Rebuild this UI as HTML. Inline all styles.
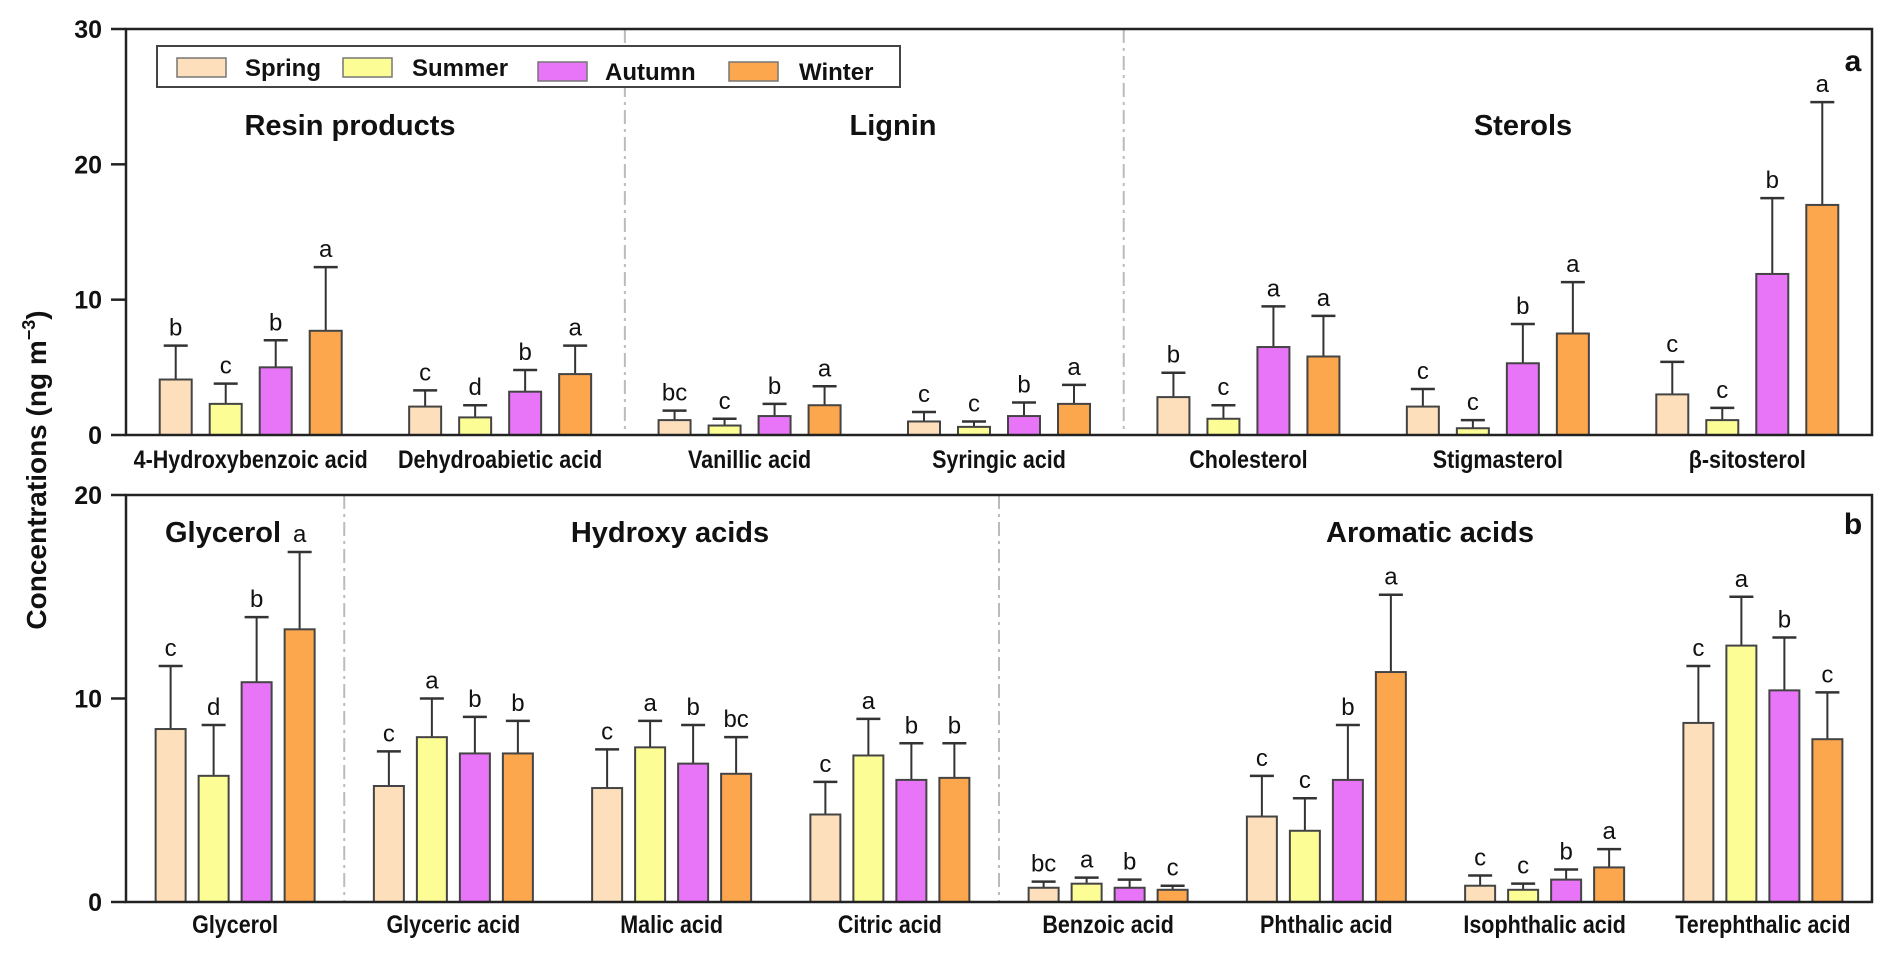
<!DOCTYPE html>
<html><head><meta charset="utf-8"><style>
html,body{margin:0;padding:0;background:#fff}
svg{display:block;font-family:"Liberation Sans",Arial,sans-serif}
</style></head><body>
<svg id="chart" width="1892" height="955" viewBox="0 0 1892 955">
<g id="root"></g>
</svg>
<script>
// ---- data ----
const seasons = ["Spring","Summer","Autumn","Winter"];
const colors = ["#FDDFBC","#FDFD96","#E875F8","#FCA74E"];
const catsA = ["4-Hydroxybenzoic acid","Dehydroabietic acid","Vanillic acid","Syringic acid","Cholesterol","Stigmasterol","β-sitosterol"];
const valsA = [[4.1,2.3,5.0,7.7],[2.1,1.3,3.2,4.5],[1.1,0.7,1.4,2.2],[1.0,0.6,1.4,2.3],[2.8,1.2,6.5,5.8],[2.1,0.5,5.3,7.5],[3.0,1.1,11.9,17.0]];
const errA = [[6.6,3.8,7.0,12.4],[3.3,2.2,4.8,6.6],[1.8,1.2,2.3,3.6],[1.7,1.0,2.4,3.7],[4.6,2.2,9.5,8.8],[3.4,1.1,8.2,11.3],[5.4,2.0,17.5,24.6]];
const letA = [["b","c","b","a"],["c","d","b","a"],["bc","c","b","a"],["c","c","b","a"],["b","c","a","a"],["c","c","b","a"],["c","c","b","a"]];
const catsB = ["Glycerol","Glyceric acid","Malic acid","Citric acid","Benzoic acid","Phthalic acid","Isophthalic acid","Terephthalic acid"];
const valsB = [[8.5,6.2,10.8,13.4],[5.7,8.1,7.3,7.3],[5.6,7.6,6.8,6.3],[4.3,7.2,6.0,6.1],[0.7,0.9,0.7,0.6],[4.2,3.5,6.0,11.3],[0.8,0.6,1.1,1.7],[8.8,12.6,10.4,8.0]];
const errB = [[11.6,8.7,14.0,17.2],[7.4,10.0,9.1,8.9],[7.5,8.9,8.7,8.1],[5.9,9.0,7.8,7.8],[1.0,1.2,1.1,0.8],[6.2,5.1,8.7,15.1],[1.3,0.9,1.6,2.6],[11.6,15.0,13.0,10.3]];
const letB = [["c","d","b","a"],["c","a","b","b"],["c","a","b","bc"],["c","a","b","b"],["bc","a","b","c"],["c","c","b","a"],["c","c","b","a"],["c","a","b","c"]];
const ticksA = [0,10,20,30];
const ticksB = [0,10,20];

const NS="http://www.w3.org/2000/svg";
const root=document.getElementById('root');
function mk(tag,attrs,parent,text){const e=document.createElementNS(NS,tag);for(const k in attrs)e.setAttribute(k,attrs[k]);if(text!==undefined)e.textContent=text;(parent||root).appendChild(e);return e;}
function condense(t,f){const w=t.getComputedTextLength();t.setAttribute('textLength',w*f);t.setAttribute('lengthAdjust','spacingAndGlyphs');}

const X0=126,X1=1872;
function drawPanel(cfg){
  const g=mk('g',{});
  
  
  const y=v=>cfg.y0-(v/cfg.max)*(cfg.y0-cfg.yTop);
  const gw=(X1-X0)/cfg.cats.length;
  cfg.seps.forEach(i=>{
    const l=mk('line',{x1:X0+gw*i,x2:X0+gw*i,y1:cfg.yTop,y2:cfg.y0,stroke:'#bbb','stroke-width':2,'stroke-dasharray':'14,5,3,5'},g);
    
    
  });
  cfg.cats.forEach((c,i)=>{
    const cx=X0+gw*(i+0.5);
    for(let s=0;s<4;s++){
      const bx=cx+(s-1.5)*cfg.step;
      const v=cfg.vals[i][s], e=cfg.err[i][s];
      const el=mk('line',{x1:bx,x2:bx,y1:y(e),y2:y(v),stroke:'#333','stroke-width':2},g);
      
      
      const cap=mk('line',{x1:bx-12,x2:bx+12,y1:y(e),y2:y(e),stroke:'#333','stroke-width':2.5},g);
      
      
      const r=mk('rect',{x:bx-cfg.bw/2,y:y(v),width:cfg.bw,height:cfg.y0-y(v),fill:colors[s],stroke:'#444','stroke-width':2},g);
      
      
      const t=mk('text',{x:bx,y:y(e)-10,'text-anchor':'middle','font-size':24,fill:'#111'},g,cfg.lets[i][s]);
      
      
    }
    const lbl=mk('text',{x:cx,y:cfg.labelY,'text-anchor':'middle','font-size':25,'font-weight':'bold',fill:'#111'},g,c);
    
    
    condense(lbl,0.86);
  });
  const f=mk('rect',{x:X0,y:cfg.yTop,width:X1-X0,height:cfg.y0-cfg.yTop,fill:'none',stroke:'#222','stroke-width':2.5},g);
  
  
  cfg.ticks.forEach(tv=>{
    const tk=mk('line',{x1:X0-15,x2:X0,y1:y(tv),y2:y(tv),stroke:'#222','stroke-width':2.5},g);
    
    
    const tl=mk('text',{x:X0-24,y:y(tv)+9,'text-anchor':'end','font-size':25,'font-weight':'bold',fill:'#111'},g,String(tv));
    
    
  });
}
drawPanel({name:'panel-a',cats:catsA,vals:valsA,err:errA,lets:letA,y0:435,yTop:29,max:30,step:50,bw:32,seps:[2,4],ticks:ticksA,labelY:468});
drawPanel({name:'panel-b',cats:catsB,vals:valsB,err:errB,lets:letB,y0:902,yTop:495,max:20,step:43,bw:30,seps:[1,4],ticks:ticksB,labelY:933});
</script>
<script>
(function(){
  const NS="http://www.w3.org/2000/svg";const root=document.getElementById('root');
  function T(x,y,s,txt,w,name){const e=document.createElementNS(NS,'text');e.setAttribute('x',x);e.setAttribute('y',y);e.setAttribute('font-size',s);e.setAttribute('font-weight',w||'bold');e.setAttribute('text-anchor','middle');e.setAttribute('fill','#111');e.textContent=txt;
    
    
    root.appendChild(e);return e;}
  T(350,135,29,'Resin products','bold','section-title-resin');
  T(893,135,29,'Lignin','bold','section-title-lignin');
  T(1523,135,29,'Sterols','bold','section-title-sterols');
  T(223,542,29,'Glycerol','bold','section-title-glycerol');
  T(670,542,29,'Hydroxy acids','bold','section-title-hydroxy');
  T(1430,542,29,'Aromatic acids','bold','section-title-aromatic');
  T(1853,71,30,'a','bold','panel-letter-a');
  T(1853,534,30,'b','bold','panel-letter-b');
  const yt=document.createElementNS(NS,'text');
  yt.setAttribute('transform','translate(46,470) rotate(-90)');
  yt.setAttribute('text-anchor','middle');yt.setAttribute('font-size',28);yt.setAttribute('font-weight','bold');yt.setAttribute('fill','#111');
  yt.innerHTML='Concentrations (ng m<tspan dy="-11" font-size="18">−3</tspan><tspan dy="11">)</tspan>';
  
  
  root.appendChild(yt);
  const lg=document.createElementNS(NS,'g');
  
  
  root.appendChild(lg);
  const box=document.createElementNS(NS,'rect');
  box.setAttribute('x',157);box.setAttribute('y',46);box.setAttribute('width',743);box.setAttribute('height',41);
  box.setAttribute('fill','#fff');box.setAttribute('stroke','#444');box.setAttribute('stroke-width',2);
  
  
  lg.appendChild(box);
  const names=["Spring","Summer","Autumn","Winter"];
  const cols=["#FDDFBC","#FDFD96","#E875F8","#FCA74E"];
  const sx=[177,343,538,729], tx=[245,412,605,799], sy=[58,58,62,62];
  for(let i=0;i<4;i++){
    const r=document.createElementNS(NS,'rect');
    r.setAttribute('x',sx[i]);r.setAttribute('y',sy[i]);r.setAttribute('width',49);r.setAttribute('height',19);
    r.setAttribute('fill',cols[i]);r.setAttribute('stroke','#777');r.setAttribute('stroke-width',1.5);
    
    
    lg.appendChild(r);
    const t=document.createElementNS(NS,'text');
    t.setAttribute('x',tx[i]);t.setAttribute('y',sy[i]+18);t.setAttribute('font-size',24);t.setAttribute('font-weight','bold');t.setAttribute('fill','#111');
    t.textContent=names[i];
    
    
    lg.appendChild(t);
  }
})();
</script>
</body></html>
